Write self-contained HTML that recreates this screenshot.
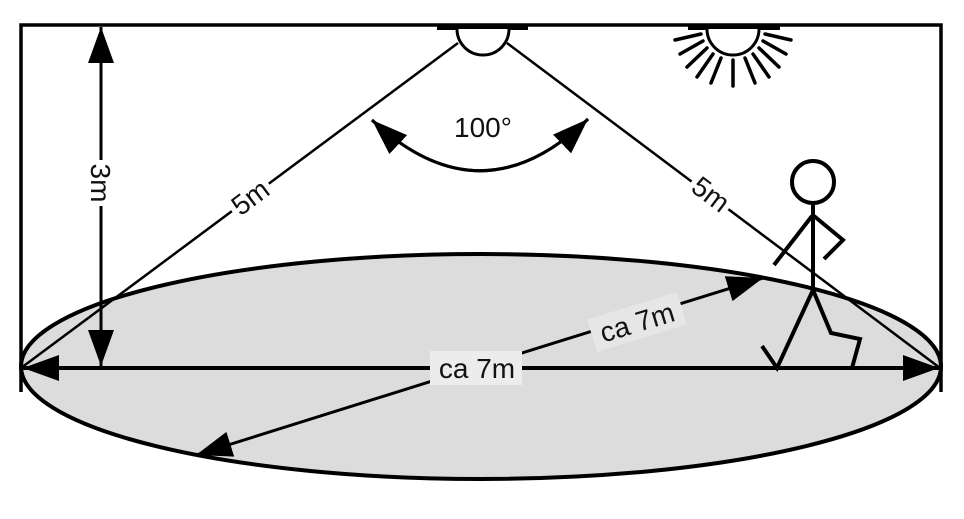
<!DOCTYPE html>
<html><head><meta charset="utf-8"><style>
html,body{margin:0;padding:0;background:#fff;}
svg{display:block;}
text{font-family:"Liberation Sans",sans-serif;font-size:28px;fill:#111;}
</style></head><body>
<svg width="964" height="519" viewBox="0 0 964 519" xmlns="http://www.w3.org/2000/svg">
<defs>
<marker id="ah" markerUnits="userSpaceOnUse" markerWidth="40" markerHeight="28" refX="36" refY="13" orient="auto">
<path d="M0,0 L36,13 L0,26 z" fill="#000"/>
</marker>
</defs>
<ellipse cx="481" cy="366.5" rx="460" ry="112.5" fill="#dcdcdc" stroke="#000" stroke-width="4"/>
<polyline points="21,392 21,25 941,25 941,392" fill="none" stroke="#000" stroke-width="3.5"/>
<rect x="437" y="24" width="91" height="6" fill="#000"/>
<path d="M457,29 A26,26 0 0 0 509,29" fill="#fff" stroke="#000" stroke-width="3"/>
<rect x="688" y="24" width="92" height="6" fill="#000"/>
<path d="M707,29 A26,26 0 0 0 759,29" fill="#fff" stroke="#000" stroke-width="3"/>
<g stroke="#000" stroke-width="3.5" stroke-linecap="round">
<line x1="701" y1="34" x2="675" y2="40"/>
<line x1="703" y1="41" x2="680" y2="54"/>
<line x1="707" y1="48" x2="687" y2="67"/>
<line x1="713" y1="54" x2="697" y2="77"/>
<line x1="721" y1="58" x2="711" y2="83"/>
<line x1="733" y1="60" x2="733" y2="86"/>
<line x1="745" y1="58" x2="755" y2="83"/>
<line x1="753" y1="54" x2="769" y2="77"/>
<line x1="759" y1="48" x2="779" y2="67"/>
<line x1="763" y1="41" x2="786" y2="54"/>
<line x1="765" y1="34" x2="791" y2="40"/>
</g>
<line x1="458" y1="43" x2="21" y2="368" stroke="#000" stroke-width="2.5"/>
<line x1="507" y1="43" x2="940" y2="368" stroke="#000" stroke-width="2.5"/>
<path d="M372,120 Q481,222 588,119" fill="none" stroke="#000" stroke-width="3" marker-end="url(#ah)"/>
<path d="M588,119 Q481,222 372,120" fill="none" stroke="#000" stroke-width="3" marker-end="url(#ah)"/>
<text x="483" y="137" text-anchor="middle">100°</text>
<line x1="101" y1="180" x2="101" y2="27" stroke="#000" stroke-width="3" marker-end="url(#ah)"/>
<line x1="101" y1="180" x2="101" y2="366" stroke="#000" stroke-width="3" marker-end="url(#ah)"/>
<rect x="86" y="160" width="30" height="46" fill="#fff"/>
<text transform="translate(91,183) rotate(90)" text-anchor="middle">3m</text>
<g transform="translate(250,197) rotate(-37)"><rect x="-23" y="-15" width="46" height="30" fill="#fff"/><text y="10" text-anchor="middle">5m</text></g>
<g transform="translate(711,194) rotate(37)"><rect x="-23" y="-15" width="46" height="30" fill="#fff"/><text y="10" text-anchor="middle">5m</text></g>
<line x1="480" y1="368" x2="23" y2="368" stroke="#000" stroke-width="4" marker-end="url(#ah)"/>
<line x1="480" y1="368" x2="939" y2="368" stroke="#000" stroke-width="4" marker-end="url(#ah)"/>
<line x1="480" y1="366" x2="196" y2="455" stroke="#000" stroke-width="3" marker-end="url(#ah)"/>
<line x1="480" y1="366" x2="763" y2="278" stroke="#000" stroke-width="3" marker-end="url(#ah)"/>
<rect x="430" y="351" width="92" height="34" fill="#ececec"/>
<text x="477" y="378" text-anchor="middle">ca 7m</text>
<g transform="translate(637,322) rotate(-17)"><rect x="-47" y="-17" width="94" height="34" fill="#e6e6e6"/><text y="10" text-anchor="middle">ca 7m</text></g>
<g stroke="#000" stroke-width="4" fill="none">
<circle cx="813" cy="182" r="21" fill="#fff"/>
<line x1="813" y1="203" x2="813" y2="290"/>
<line x1="812" y1="216" x2="774" y2="265"/>
<polyline points="814,216 843,240 824,259"/>
<polyline points="813,290 777,368 762,346"/>
<polyline points="813,290 831,333 860,339 852,368"/>
</g>
</svg>
</body></html>
